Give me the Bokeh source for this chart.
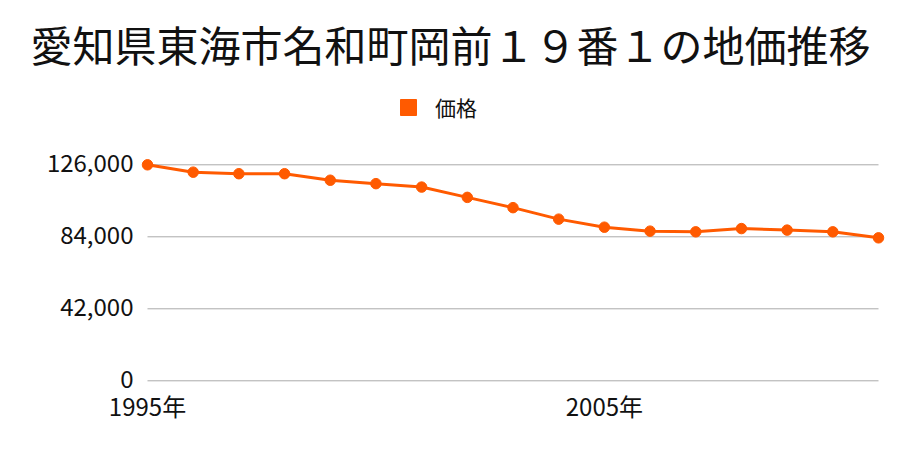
from bokeh.plotting import figure
from bokeh.models import Range1d, Legend, LegendItem, Label
from bokeh.core.properties import value
from bokeh.embed import file_html
from bokeh.resources import INLINE

years = list(range(1995, 2012))
prices = [126000, 121700, 120800, 120800, 117000, 115000, 113000, 107000, 101000,
          94300, 89600, 87300, 86900, 88800, 87900, 86900, 83400]
y_ticks = [0, 42000, 84000, 126000]
x_ticks = [1995, 2005]
x_tick_labels = ["1995年", "2005年"]
title_text = "愛知県東海市名和町岡前１９番１の地価推移"
series_name = "価格"

FONT = "Noto Sans CJK JP"
ORANGE = "#ff5a00"
W, H = 900, 450

# pixel layout of the plotting area (whole canvas is the frame)
left_px, right_px = 147, 878        # first and last year
zero_px, top_tick_px = 380.3, 164.3  # y pixel of 0 and of the top tick
px_per_year = (right_px - left_px) / (years[-1] - years[0])
val_per_px = (y_ticks[-1] - y_ticks[0]) / (zero_px - top_tick_px)

p = figure(width=W, height=H, output_backend="svg", toolbar_location=None,
           min_border=0, title=None)
p.x_range = Range1d(years[0] - left_px / px_per_year, years[0] + (W - left_px) / px_per_year)
p.y_range = Range1d(-(H - zero_px) * val_per_px, zero_px * val_per_px)
p.outline_line_color = None
p.axis.visible = False
p.grid.visible = False

# gridlines
p.segment(x0=[years[0]] * len(y_ticks), x1=[years[-1]] * len(y_ticks), y0=y_ticks, y1=y_ticks,
          line_color="#aaaaaa", line_width=1)

# y tick labels
p.text(x=[years[0]] * len(y_ticks), y=y_ticks, text=[f"{v:,}" for v in y_ticks],
       x_offset=-14, y_offset=-2, text_align="right", text_baseline="middle",
       text_font=value(FONT), text_font_size="24px", text_color="#111111")
# x tick labels
p.text(x=x_ticks, y=[0] * len(x_ticks), text=x_tick_labels,
       y_offset=7, text_align="center", text_baseline="top",
       text_font=value(FONT), text_font_size="24px", text_color="#111111")

# series
p.line(years, prices, line_color=ORANGE, line_width=3)
p.scatter(years, prices, size=10.5, fill_color=ORANGE, line_color=ORANGE)
swatch = p.vbar(x=years, top=prices, width=0.5, fill_color=ORANGE, line_color=ORANGE,
                visible=False)

legend = Legend(items=[LegendItem(label=series_name, renderers=[swatch])],
                location=(398, H - 122), orientation="horizontal",
                margin=0, padding=0, border_line_color=None, background_fill_alpha=0,
                glyph_width=20, glyph_height=20, label_standoff=17,
                label_text_font=FONT, label_text_font_size="21px", label_text_color="#111111",
                inactive_fill_alpha=0)
p.add_layout(legend, "center")

title = Label(x=p.x_range.start + (W / 2) / px_per_year,
              y=p.y_range.end - 43 * val_per_px,
              text=title_text, text_align="center", text_baseline="middle",
              text_font=FONT, text_font_size="42px", text_color="#111111")
p.add_layout(title)

open("out.html", "w").write(file_html(p, INLINE))
